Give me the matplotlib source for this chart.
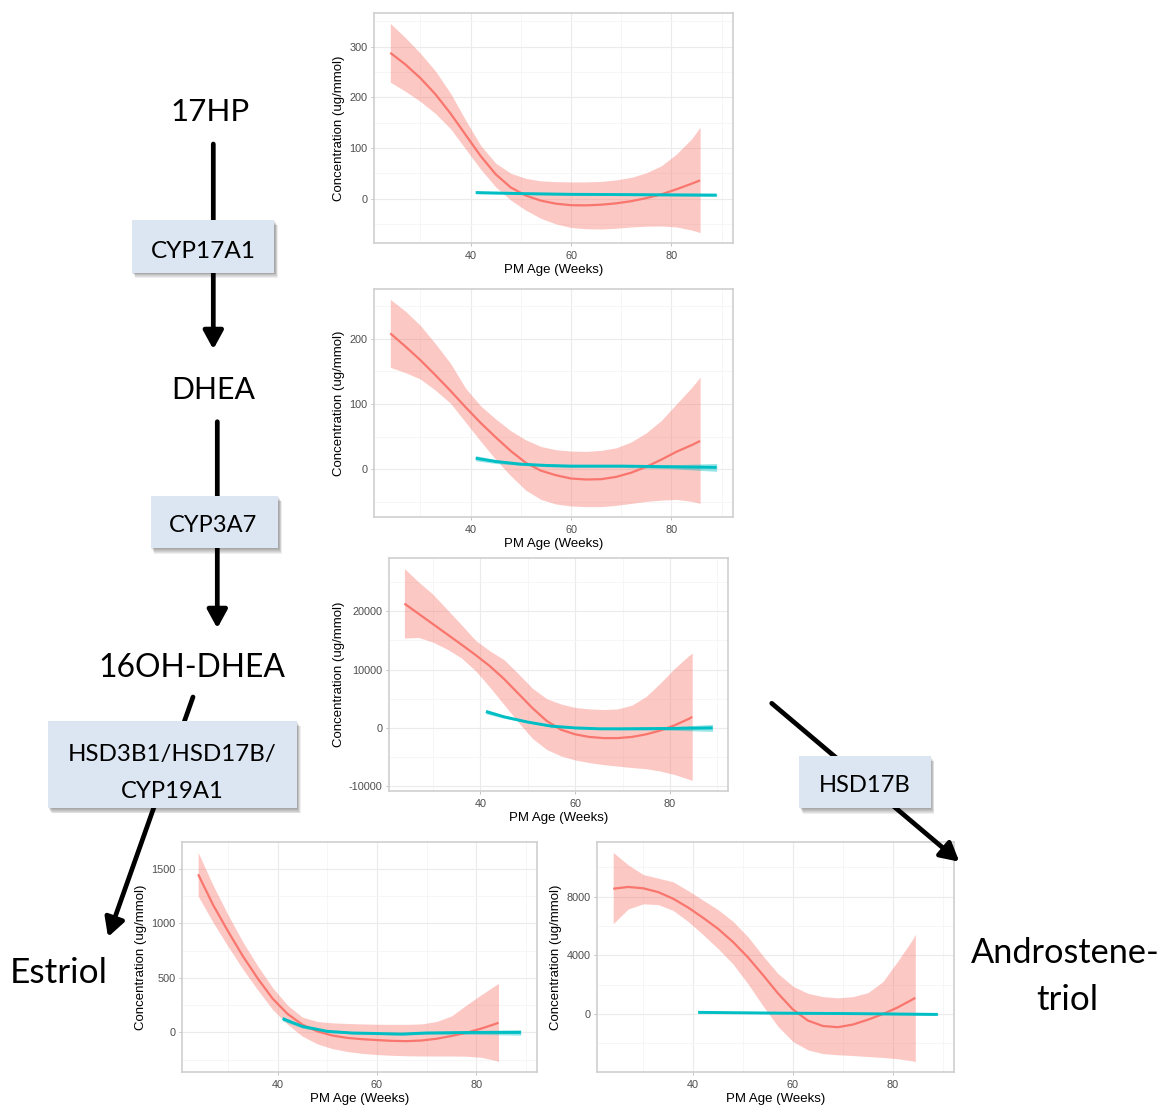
import matplotlib
matplotlib.use("Agg")
import matplotlib.pyplot as plt
from matplotlib.patches import Rectangle, FancyArrowPatch
from matplotlib.ticker import MultipleLocator

plt.rcParams["axes.unicode_minus"] = False

# ---------------- data ----------------
# Panel 1: 17HP
hp_x = [24, 27, 30, 33, 36, 39, 42, 45, 48, 51, 54, 57, 60, 63, 66, 69, 72, 75, 78, 81, 84, 85.7]
hp_fit = [288, 265, 238, 206, 168, 126, 84, 48, 22, 6, -4, -10, -13, -13.3, -12, -9.3, -5, 1, 8.5, 18.5, 29.5, 36]
hp_hi = [346, 318, 287, 252, 208, 155, 105, 70, 50, 40, 35, 33.5, 33, 33, 34, 37, 42, 51, 65, 88, 118, 141]
hp_lo = [230, 212, 192, 168, 138, 98, 58, 23, -3, -23, -39, -50, -57, -59.5, -60, -58.5, -56, -54.5, -54, -56, -62, -67]
hp_cx = [41, 50, 60, 70, 80, 89]
hp_cfit = [12, 10, 8.5, 8, 7.5, 7]
hp_chw = [2.5, 2, 2, 2, 2.5, 3]

# Panel 2: DHEA
dh_x = [24, 27, 30, 33, 36, 39, 42, 45, 48, 51, 54, 57, 60, 63, 66, 69, 72, 75, 78, 81, 84, 85.7]
dh_fit = [208, 188, 167, 144, 120, 95, 71, 49, 28, 10, -2, -9, -14, -15.5, -15, -11.5, -5, 4, 15, 27, 37, 43.5]
dh_hi = [260, 242, 220, 192, 162, 124, 97, 77, 59, 45, 35, 30, 28, 27.5, 29, 33, 42, 56, 75, 100, 125, 141]
dh_lo = [156, 148, 138, 121, 101, 72, 43, 15, -10, -32, -46, -53, -56, -57, -57, -55, -52, -49, -47, -46, -49, -52]
dh_cx = [41, 45, 50, 55, 60, 70, 80, 89]
dh_cfit = [17, 12, 8, 6, 5, 5, 4, 3]
dh_chw = [4, 3, 2, 2, 2, 2, 3, 6]

# Panel 3: 16OH-DHEA
oh_x = [24, 27, 30, 33, 36, 39, 42, 45, 48, 51, 54, 57, 60, 63, 66, 69, 72, 75, 78, 81, 84, 84.7]
oh_fit = [21300, 19550, 17800, 16050, 14300, 12500, 10600, 8400, 5900, 3400, 1200, -300, -1100, -1550,
          -1750, -1750, -1550, -1100, -450, 450, 1550, 1900]
oh_hi = [27300, 25000, 22900, 20300, 17700, 15000, 13200, 11700, 9300, 6800, 5000, 4100, 3500, 3250,
         3150, 3250, 3900, 5400, 7700, 10200, 12400, 12800]
oh_lo = [15400, 15500, 14700, 13500, 12000, 9800, 7000, 4000, 1000, -1800, -3700, -4800, -5500, -5950,
         -6300, -6550, -6800, -7000, -7400, -8000, -8800, -9000]
oh_cx = [41.2, 45, 50, 55, 60, 65, 70, 80, 89]
oh_cfit = [2800, 1900, 1000, 300, 0, -150, -150, -100, 0]
oh_chw = [400, 250, 150, 150, 150, 150, 200, 300, 600]

# Panel 4: Estriol
es_x = [24, 27, 30, 33, 36, 39, 42, 45, 48, 51, 54, 57, 60, 63, 66, 69, 72, 75, 78, 81, 84, 84.5]
es_fit = [1450, 1170, 929, 700, 495, 310, 170, 71, 10, -28, -50, -62, -70, -77, -80, -74, -58, -33, -3, 35, 80, 89]
es_hi = [1650, 1350, 1080, 830, 610, 410, 250, 140, 100, 88, 82, 78, 75, 74, 74, 78, 100, 150, 250, 345, 435, 449]
es_lo = [1250, 1010, 790, 580, 390, 210, 75, -35, -105, -148, -175, -192, -203, -210, -214, -216, -216, -216,
         -218, -228, -258, -267]
es_cx = [41, 45, 50, 55, 60, 65, 70, 80, 89]
es_cfit = [126, 55, 10, -5, -10, -15, -5, 0, 0]
es_chw = [20, 15, 12, 10, 10, 10, 12, 18, 25]

# Panel 5: Androstenetriol
an_x = [24, 27, 30, 33, 36, 39, 42, 45, 48, 51, 54, 57, 60, 63, 66, 69, 72, 75, 78, 81, 84, 84.5]
an_fit = [8530, 8650, 8560, 8300, 7850, 7250, 6550, 5800, 4900, 3850, 2650, 1400, 300, -450, -820, -900,
          -720, -390, -10, 450, 1000, 1100]
an_hi = [11000, 10150, 9500, 9250, 9000, 8400, 7750, 7100, 6300, 5250, 3950, 2750, 1890, 1400, 1180, 1100,
         1180, 1450, 2200, 3600, 5100, 5440]
an_lo = [6150, 7150, 7500, 7450, 7050, 6300, 5400, 4450, 3400, 2050, 550, -850, -1880, -2450, -2700, -2780,
         -2830, -2900, -2960, -3050, -3200, -3240]
an_cx = [41, 50, 60, 70, 80, 89]
an_cfit = [110, 80, 50, 30, 0, -30]
an_chw = [60, 50, 50, 50, 60, 80]

x_ticks = [40, 60, 80]
x_label = "PM Age (Weeks)"
y_label = "Concentration (ug/mmol)"

# pathway text
metabolites = ["17HP", "DHEA", "16OH-DHEA", "Estriol", "Androstene-", "triol"]
enzymes = ["CYP17A1", "CYP3A7", "HSD3B1/HSD17B/", "CYP19A1", "HSD17B"]

# ---------------- figure ----------------
W, H = 1169, 1108
fig = plt.figure(figsize=(W / 100, H / 100), dpi=100)
fig.patch.set_facecolor("white")

RED = "#F8766D"
CYAN = "#00BFC4"
AXFONT = "Liberation Sans"


def make_panel(box, x, fit, lo, hi, cx, cfit, chw, ymaj, ymin):
    x0, y0, x1, y1 = box
    ax = fig.add_axes([x0 / W, 1 - y1 / H, (x1 - x0) / W, (y1 - y0) / H])
    ax.set_facecolor("white")
    clo = [f - h for f, h in zip(cfit, chw)]
    chi = [f + h for f, h in zip(cfit, chw)]
    ax.fill_between(x, lo, hi, color=RED, alpha=0.4, lw=0, zorder=2)
    ax.fill_between(cx, clo, chi, color=CYAN, alpha=0.4, lw=0, zorder=2)
    ax.plot(x, fit, color=RED, lw=1.6, zorder=3, solid_capstyle="butt", solid_joinstyle="round")
    ax.plot(cx, cfit, color=CYAN, lw=2.1, zorder=3, solid_capstyle="butt", solid_joinstyle="round")
    ax.margins(x=0.05, y=0.05)
    ax.set_xticks(x_ticks)
    ax.xaxis.set_minor_locator(MultipleLocator(10))
    ax.yaxis.set_major_locator(MultipleLocator(ymaj))
    ax.yaxis.set_minor_locator(MultipleLocator(ymin))
    ax.grid(which="major", color="#EBEBEB", lw=0.8, zorder=0)
    ax.grid(which="minor", color="#F5F5F5", lw=0.6, zorder=0)
    ax.set_axisbelow(True)
    for s in ax.spines.values():
        s.set_color("#CFCFCF")
        s.set_linewidth(1.2)
    ax.tick_params(which="major", length=2.5, width=0.6, color="#B8B8B8",
                   labelsize=7.8, labelcolor="#4D4D4D", pad=2)
    ax.tick_params(axis="x", which="major", pad=3)
    ax.tick_params(which="minor", length=0)
    for lab in ax.get_xticklabels() + ax.get_yticklabels():
        lab.set_fontfamily(AXFONT)
    ax.set_xlabel(x_label, fontsize=9.5, fontfamily=AXFONT, labelpad=2.5)
    ax.set_ylabel(y_label, fontsize=9.5, fontfamily=AXFONT, labelpad=3)
    return ax


make_panel((374, 13, 733, 243), hp_x, hp_fit, hp_lo, hp_hi, hp_cx, hp_cfit, hp_chw, 100, 50)
make_panel((374, 289, 733, 517), dh_x, dh_fit, dh_lo, dh_hi, dh_cx, dh_cfit, dh_chw, 100, 50)
make_panel((389, 558, 728, 791), oh_x, oh_fit, oh_lo, oh_hi, oh_cx, oh_cfit, oh_chw, 10000, 5000)
make_panel((182, 842, 537, 1072), es_x, es_fit, es_lo, es_hi, es_cx, es_cfit, es_chw, 500, 250)
make_panel((597, 842, 954, 1072), an_x, an_fit, an_lo, an_hi, an_cx, an_cfit, an_chw, 4000, 2000)

# ---------------- pathway overlay ----------------
ov = fig.add_axes([0, 0, 1, 1], zorder=10)
ov.set_xlim(0, W)
ov.set_ylim(H, 0)
ov.axis("off")
ov.patch.set_alpha(0)

renderer = fig.canvas.get_renderer()
TFONT = "Lato"


def fit_text(txt, xc, ybase, width, **kw):
    t = ov.text(xc, ybase, txt, ha="center", va="baseline", fontsize=20,
                fontfamily=TFONT, color="black", zorder=6, **kw)
    w = t.get_window_extent(renderer).width
    t.set_fontsize(20 * width / w)
    return t


def arrow(p0, p1):
    a = FancyArrowPatch(p0, p1, arrowstyle="-|>,head_length=0.55,head_width=0.3",
                        mutation_scale=20, lw=3.4, color="black",
                        shrinkA=0, shrinkB=0, zorder=2)
    ov.add_patch(a)


def enzyme_box(x0, y0, x1, y1):
    for k in range(1, 7):
        ov.add_patch(Rectangle((x0 + 0.6 * k, y0 + 0.9 * k), x1 - x0, y1 - y0,
                               facecolor="black", edgecolor="none", alpha=0.065, zorder=3))
    ov.add_patch(Rectangle((x0, y0), x1 - x0, y1 - y0, facecolor="#DCE6F2",
                           edgecolor="none", zorder=4))


arrow((213.3, 144), (213.3, 349.3))
arrow((217.3, 421.7), (217.3, 628.3))
arrow((193, 697), (108, 937))
arrow((771.7, 703.3), (959.3, 861.7))

enzyme_box(131.7, 220, 274.3, 272.7)
enzyme_box(150.7, 496, 278.3, 548.3)
enzyme_box(48, 721, 297, 808)
enzyme_box(799.3, 756, 930.7, 808.3)

fit_text(metabolites[0], 210.5, 120.7, 79)
fit_text(metabolites[1], 213, 399.3, 84)
fit_text(metabolites[2], 191.5, 677.3, 187)
fit_text(metabolites[3], 59, 982.7, 98)
fit_text(metabolites[4], 1065, 963.3, 189)
fit_text(metabolites[5], 1067, 1010, 62)

fit_text(enzymes[0], 203, 257.5, 105)
fit_text(enzymes[1], 213.5, 532, 88)
fit_text(enzymes[2], 172.5, 761, 208)
fit_text(enzymes[3], 172.5, 798, 103)
fit_text(enzymes[4], 865, 792, 92)

fig.savefig("out.png", dpi=100, facecolor="white")
